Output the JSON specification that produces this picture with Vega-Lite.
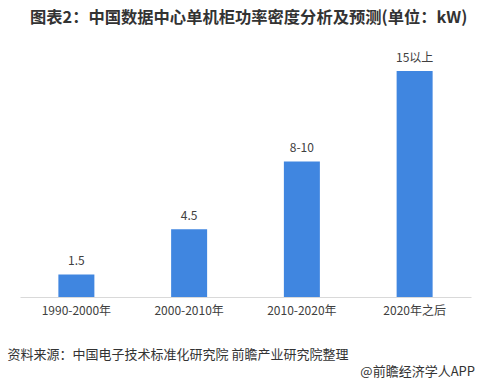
{
  "$schema": "https://vega.github.io/schema/vega-lite/v6.json",
  "width": 451,
  "height": 241,
  "autosize": {"type": "none"},
  "padding": {"left": 20, "top": 56, "right": 11, "bottom": 89},
  "background": "white",
  "title": {
    "text": "图表2：中国数据中心单机柜功率密度分析及预测(单位：kW)",
    "anchor": "start",
    "frame": "group",
    "dx": 10,
    "offset": 26,
    "fontSize": 16.3,
    "fontWeight": "bold",
    "font": "Noto Sans CJK SC",
    "color": "#333333"
  },
  "config": {
    "view": {"stroke": null},
    "font": "Noto Sans CJK SC"
  },
  "data": {
    "values": [
      {"period": "1990-2000年", "value": 1.5, "label": "1.5"},
      {"period": "2000-2010年", "value": 4.5, "label": "4.5"},
      {"period": "2010-2020年", "value": 9, "label": "8-10"},
      {"period": "2020年之后", "value": 15, "label": "15以上"}
    ]
  },
  "layer": [
    {
      "mark": {"type": "bar", "color": "#4086e0", "size": 36},
      "encoding": {
        "x": {
          "field": "period",
          "type": "nominal",
          "sort": null,
          "scale": {"paddingInner": 0.68, "paddingOuter": 0.34},
          "axis": {
            "title": "资料来源：中国电子技术标准化研究院 前瞻产业研究院整理",
            "titleAnchor": "start",
            "titleAlign": "left",
            "titleX": -13,
            "titleY": 51,
            "titleFontSize": 13,
            "titleFontWeight": "normal",
            "titleColor": "#333333",
            "labelAngle": 0,
            "labelFontSize": 12,
            "labelColor": "#404040",
            "labelPadding": 8,
            "ticks": false,
            "domainColor": "#d9d9d9",
            "domainWidth": 1
          }
        },
        "y": {
          "field": "value",
          "type": "quantitative",
          "scale": {"domain": [0, 16]},
          "axis": null
        }
      }
    },
    {
      "mark": {"type": "text", "dy": -13, "fontSize": 12, "color": "#404040"},
      "encoding": {
        "x": {"field": "period", "type": "nominal", "sort": null},
        "y": {"field": "value", "type": "quantitative"},
        "text": {"field": "label"}
      }
    },
    {
      "data": {"values": [{"t": "@前瞻经济学人APP"}]},
      "mark": {"type": "text", "align": "right", "baseline": "middle", "fontSize": 13, "color": "#333333"},
      "encoding": {
        "x": {"value": 455},
        "y": {"value": 316},
        "text": {"field": "t"}
      }
    }
  ]
}
